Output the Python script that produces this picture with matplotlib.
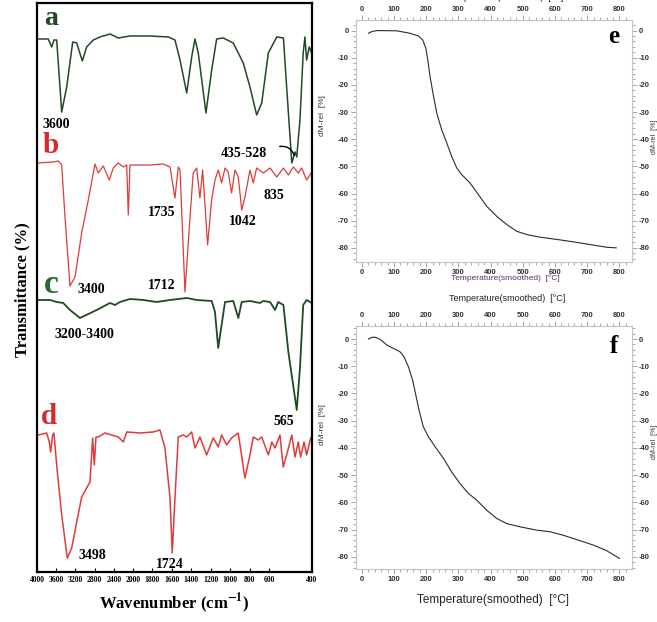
import numpy as np
import matplotlib
matplotlib.use("Agg")
import matplotlib.pyplot as plt
from matplotlib.ticker import MultipleLocator

plt.rcParams["axes.unicode_minus"] = False
plt.rcParams["mathtext.fontset"] = "stix"

# FTIR spectra (wavenumber cm-1, stacked transmittance in arbitrary units)
wn_a = [3994, 3765, 3694, 3646, 3590, 3485, 3381, 3256, 3173, 3056, 2965, 2827, 2688, 2479, 2306,
        2063, 1825, 1637, 1568, 1516, 1447, 1396, 1362, 1328, 1249, 1190, 1139, 1071, 968, 865,
        796, 727, 675, 607, 564, 533, 518, 494, 479, 471, 456, 441, 433, 425, 413, 402]
t_a = [533, 533, 525, 532, 532, 460, 485, 530, 529, 511, 525, 532, 535, 538, 534,
       536, 536, 535, 532, 512, 479, 515, 533, 519, 459, 502, 533, 534, 529, 509,
       485, 457, 469, 519, 535, 534, 485, 409, 420, 415, 452, 519, 535, 512, 525, 519]

wn_b = [3973, 3660, 3556, 3485, 3417, 3313, 3208, 3069, 2931, 2792, 2723, 2619, 2494, 2411, 2306,
        2202, 2131, 2098, 2063, 1962, 1825, 1688, 1619, 1568, 1534, 1516, 1465, 1413, 1380, 1345,
        1311, 1283, 1232, 1191, 1156, 1122, 1088, 1053, 1020, 985, 950, 916, 881, 847, 796,
        762, 727, 659, 595, 564, 533, 510, 487, 464, 448, 425, 401]
t_b = [409, 410, 411, 407, 355, 286, 295, 339, 372, 408, 399, 406, 392, 404, 409,
       405, 407, 357, 407, 407, 407, 408, 405, 374, 405, 402, 280, 355, 399, 404,
       374, 402, 327, 372, 392, 402, 389, 404, 400, 379, 402, 395, 362, 375, 402,
       389, 404, 399, 404, 395, 404, 397, 405, 399, 404, 392, 400]

wn_c = [3973, 3729, 3590, 3452, 3313, 3104, 2756, 2479, 2375, 2271, 2063, 1894, 1757, 1619, 1447,
        1345, 1190, 1156, 1123, 1088, 1053, 968, 916, 881, 796, 693, 659, 595, 572, 557,
        533, 510, 471, 456, 441, 425, 401]
t_c = [272, 272, 270, 269, 262, 254, 262, 269, 267, 270, 273, 272, 270, 272, 274,
       272, 271, 260, 224, 247, 270, 271, 254, 270, 271, 269, 271, 270, 262, 270,
       267, 220, 162, 204, 267, 272, 269]

wn_d = [3973, 3798, 3744, 3715, 3673, 3646, 3590, 3485, 3369, 3277, 3173, 3069, 2965, 2896, 2840,
        2806, 2771, 2723, 2583, 2306, 2202, 2131, 1928, 1791, 1722, 1671, 1619, 1596, 1568, 1534,
        1482, 1447, 1396, 1362, 1311, 1242, 1174, 1122, 1088, 1036, 985, 917, 848, 796, 762,
        710, 675, 607, 587, 572, 549, 534, 518, 494, 479, 464, 453, 437, 425, 406]
t_d = [137, 139, 130, 120, 137, 139, 107, 57, 14, 24, 50, 75, 84, 90, 134,
       107, 135, 135, 139, 135, 130, 140, 139, 140, 142, 124, 74, 19, 74, 135,
       137, 135, 140, 124, 135, 117, 134, 125, 137, 127, 134, 139, 94, 117, 135,
       132, 135, 117, 130, 124, 137, 105, 117, 137, 115, 130, 115, 130, 117, 134]

wn_ticks = [4000, 3600, 3200, 2800, 2400, 2000, 1800, 1600, 1400, 1200, 1000, 800, 600, 400]

# TGA curves (temperature C, mass change %)
temp_e = [21, 31, 47, 109, 150, 176, 189, 199, 205, 212, 223, 233, 248, 264, 279,
          295, 310, 336, 362, 388, 419, 450, 481, 512, 554, 605, 657, 709, 761, 790]
mass_e = [-1.0, -0.4, 0.0, -0.1, -1.0, -2.0, -3.4, -6.5, -10.8, -16.9, -24.3, -30.4, -36.5, -41.4, -46.3,
          -50.6, -53.0, -56.1, -60.4, -64.7, -68.4, -71.4, -73.9, -75.1, -76.1, -76.9, -77.8, -78.8, -79.8, -80.0]
temp_f = [21, 31, 41, 57, 78, 98, 119, 131, 145, 158, 169, 179, 191, 207, 228, 254,
          279, 305, 331, 357, 388, 419, 450, 492, 543, 585, 626, 668, 719, 761, 800]
mass_f = [0.0, 0.6, 0.7, -0.1, -2.2, -3.4, -4.7, -6.5, -10.2, -15.1, -21.2, -26.7, -32.2, -35.9, -39.6, -43.9,
          -48.8, -53.1, -56.7, -59.2, -62.9, -65.9, -67.8, -69.0, -70.2, -70.8, -72.1, -73.7, -75.7, -77.8, -80.6]

GREEN = "#1f4a22"
RED = "#e03a3a"
SERIF = "Liberation Serif"
SANS = "Liberation Sans"

# wavenumber axis is compressed above 2000 and stretched below 600
WN_BREAKS = [400, 600, 2000, 4000]
POS_BREAKS = [0, 43, 179, 275]


def fwd(w):
    return np.interp(w, WN_BREAKS, POS_BREAKS)


def inv(p):
    return np.interp(p, POS_BREAKS, WN_BREAKS)


fig = plt.figure(figsize=(6.57, 6.22), dpi=100)

# ---- FTIR panel ----
ax = fig.add_axes([0.0563, 0.0804, 0.4186, 0.9148])
ax.set_xscale("function", functions=(fwd, inv))
ax.plot(wn_a, t_a, color=GREEN, lw=1.1)
ax.plot(wn_b, t_b, color=RED, lw=0.9)
ax.plot(wn_c, t_c, color=GREEN, lw=1.3)
ax.plot(wn_d, t_d, color=RED, lw=1.1)
ax.set_xlim(4000, 400)
ax.set_ylim(0, 569)
ax.set_xticks(wn_ticks)
ax.set_xticklabels([str(v) for v in wn_ticks], fontfamily=SERIF, fontweight="bold", fontsize=5.5)
ax.minorticks_off()
ax.set_yticks([])
ax.tick_params(axis="x", direction="in", length=3, width=0.8, pad=3)
for s in ax.spines.values():
    s.set_linewidth(1.6)
ax.set_xlabel(r"Wavenumber (cm$^{\mathbf{-1}}$)", fontfamily=SERIF, fontweight="bold",
              fontsize=12, labelpad=5)
fig.text(0.034, 0.535, "Transmittance (%)", rotation=90, ha="center", va="center",
         fontfamily=SERIF, fontweight="bold", fontsize=12)

letters = [("a", 3708, 547, GREEN, 20), ("b", 3708, 419, "#d42a2a", 21),
           ("c", 3708, 279, "#2a6a2a", 24), ("d", 3750, 148, "#d42a2a", 21)]
for txt, x, y, c, fs in letters:
    ax.text(x, y, txt, color=c, fontsize=fs, fontfamily=SERIF, fontweight="bold",
            ha="center", va="baseline")

peaks = [("3600", 3590, 444), ("435-528", 863, 415), ("1735", 1702, 356), ("1042", 873, 347),
         ("835", 579, 373), ("3400", 2861, 279), ("1712", 1702, 283), ("3200-3400", 3021, 234),
         ("565", 533, 147), ("3498", 2844, 13), ("1724", 1619, 4)]
for txt, x, y in peaks:
    ax.text(x, y, txt, fontsize=10, fontfamily=SERIF, fontweight="bold",
            ha="center", va="baseline")
ax.annotate("", xy=(479, 414), xytext=(563, 425),
            arrowprops=dict(arrowstyle="-", color="black", lw=1.0,
                            connectionstyle="arc3,rad=-0.5"))

# ---- TGA panels ----
def tga(rect, temp, mass, ylim, letter, ly):
    a = fig.add_axes(rect)
    a.plot(temp, mass, color="#2b2b2b", lw=0.8)
    a.set_xlim(-17.7, 838)
    a.set_ylim(*ylim)
    a.xaxis.set_major_locator(MultipleLocator(100))
    a.xaxis.set_minor_locator(MultipleLocator(20))
    a.yaxis.set_major_locator(MultipleLocator(10))
    a.yaxis.set_minor_locator(MultipleLocator(2))
    a.tick_params(which="both", direction="out", top=True, right=True,
                  labeltop=True, labelright=True, colors="#9a9a9a",
                  labelcolor="#333333", labelsize=5.5, pad=1.5, width=0.6)
    a.tick_params(which="major", length=3.5)
    a.tick_params(which="minor", length=2)
    for lab in a.get_xticklabels() + a.get_yticklabels():
        lab.set_fontweight("bold")
        lab.set_fontfamily(SANS)
    for s in a.spines.values():
        s.set_color("#c4c4c4")
        s.set_linewidth(0.8)
    a.text(783, ly, letter, fontsize=18, fontfamily=SERIF, fontweight="bold",
           ha="center", va="baseline")
    return a


tga([0.5419, 0.5793, 0.4196, 0.3886], temp_e, mass_e, (-85.1, 3.9), "e", -4.5)
tga([0.5419, 0.0847, 0.4196, 0.3912], temp_f, mass_f, (-84.6, 4.8), "f", -5.1)

xl = "Temperature(smoothed)  [°C]"
fig.text(0.769, 1.004, xl, ha="center", va="center", fontsize=6.5, fontfamily=SANS, color="#222222")
fig.text(0.769, 0.5525, xl, ha="center", va="center", fontsize=6, fontfamily=SANS, color="#5a2e6e")
fig.text(0.772, 0.5209, xl, ha="center", va="center", fontsize=6.5, fontfamily=SANS, color="#222222")
fig.text(0.750, 0.0354, xl, ha="center", va="center", fontsize=8.5, fontfamily=SANS, color="#222222")
for yy in (0.815, 0.317):
    fig.text(0.491, yy, "dM-rel  [%]", rotation=90, ha="center", va="center",
             fontsize=6, fontfamily=SANS, color="#333333")
for yy in (0.78, 0.29):
    fig.text(0.9965, yy, "dM-rel  [%]", rotation=90, ha="center", va="center",
             fontsize=5, fontfamily=SANS, color="#333333")

fig.savefig("out.png", dpi=100)
